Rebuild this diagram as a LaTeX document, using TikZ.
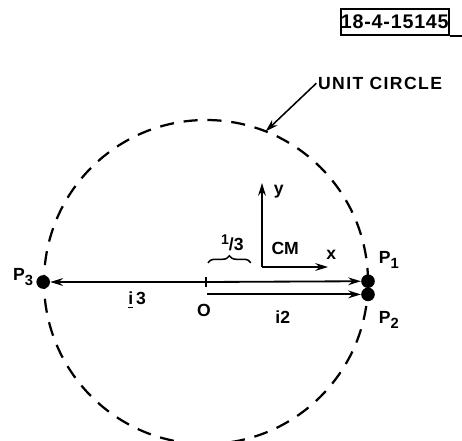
\documentclass[tikz,border=0pt]{standalone}
\usepackage{fontspec}
\setmainfont{Liberation Sans}
\usetikzlibrary{arrows.meta, positioning, decorations.pathreplacing, calc}
\newcommand{\lowidx}[1]{\raisebox{-0.6ex}{\fontsize{10.5}{11}\selectfont #1}}

\begin{document}
\begin{tikzpicture}[
    lbl/.style={font=\fontsize{12.5}{14}\selectfont\bfseries, inner sep=1pt},
    vec/.style={-{Stealth[length=9pt,width=5.5pt]}, line width=1.3pt},
    pt/.style={circle, fill=black, inner sep=0pt, minimum size=0.34cm},
    unitc/.style={line width=1.6pt, dash pattern=on 10pt off 7pt}
]
    \useasboundingbox (-5.15,-3.95) rectangle (6.4,7.05);

    % === Unit circle and its points ===
    \coordinate (O) at (0,0);
    \draw[unitc] (O) circle (4.05);

    \node[pt] (P3) at (-4.07,0) {};
    \node[pt] (P1) at (4.05,0.02) {};
    \node[pt] (P2) at (4.05,-0.31) {};

    \node[lbl] (lP3) at (-4.57,0.12) {P\lowidx{3}};
    \node[lbl] (lP1) at (4.57,0.55) {P\lowidx{1}};
    \node[lbl] (lP2) at (4.57,-0.95) {P\lowidx{2}};

    % Vectors from O
    \coordinate (O2) at (0.03,-0.31);
    \draw[line width=1.2pt] (0,0.12) -- (0,-0.12);
    \draw[vec] (O) -- (P3);
    \draw[vec] (O) -- (P1);
    \draw[vec] (O2) -- (P2);

    \node[lbl] (lO) at (-0.05,-0.72) {O};
    \node[lbl] (li3) at (-1.72,-0.45) {\underline{i}\,3};
    \node[lbl] (li2) at (1.92,-0.87) {i2};

    % === CM axes ===
    \coordinate (cm) at (1.4,0.375);
    \coordinate (cmy) at (1.4,2.475);
    \coordinate (cmx) at (3.05,0.375);
    \draw[vec] (cm) -- (cmy);
    \draw[vec] (cm) -- (cmx);
    \node[lbl] (ly) at (1.82,2.25) {y};
    \node[lbl] (lx) at (3.13,0.68) {x};
    \node[lbl] (lcm) at (1.98,0.85) {CM};

    % Offset of the CM from O
    \draw[line width=1.1pt, decorate, decoration={brace, amplitude=5pt}]
        (0.05,0.48) -- (1.12,0.48);
    \node[lbl] (lthird) at (0.66,0.98) {\raisebox{0.6ex}{\fontsize{10}{11}\selectfont 1}/3};

    % Leader to the circle
    \node[lbl, anchor=west] (uc) at (2.76,4.97) {\addfontfeature{LetterSpace=8}UNIT CIRCLE};
    \coordinate (ucpt) at (68.4:4.05);
    \draw[vec, line width=1.1pt] (uc.west) -- (ucpt);

    % Figure number
    \node[draw, line width=1.3pt, minimum width=2.7cm, minimum height=0.65cm,
          font=\fontsize{14}{16}\selectfont\bfseries, inner sep=0pt] (num) at (4.72,6.5)
        {\addfontfeature{LetterSpace=4}18-4-15145};
    \draw[line width=1.3pt] (num.south east) -- ++(0.4,0);

\end{tikzpicture}
\end{document}
